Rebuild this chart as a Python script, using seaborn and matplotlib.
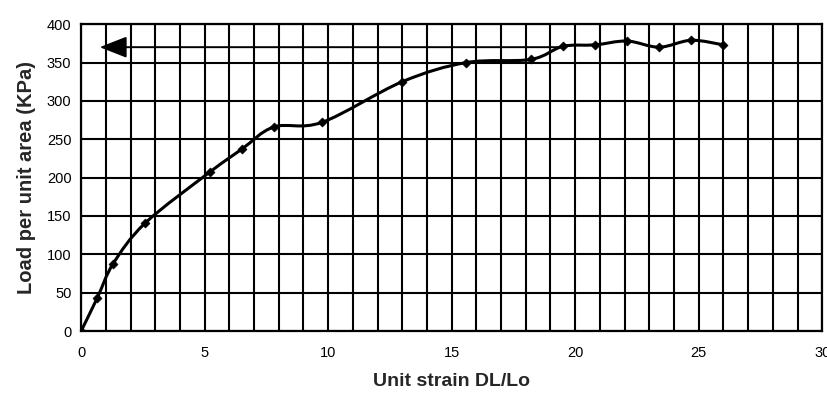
import numpy as np
import pandas as pd
import seaborn as sns
import matplotlib
matplotlib.use("Agg")
import matplotlib.pyplot as plt
from matplotlib.path import Path
from matplotlib.patches import PathPatch

# ---- data ----
strain = [0.0, 0.65, 1.3, 2.6, 5.2, 6.5, 7.8, 9.75, 13.0, 15.6, 18.2,
          19.5, 20.8, 22.1, 23.4, 24.7, 26.0]
load = [0, 43, 88, 141, 207, 237, 266, 272, 325, 350, 354,
        371, 373, 378, 370, 379, 373]
arrow_level = 370
arrow_from = 19.5
arrow_to = 0.75

x_label = "Unit strain DL/Lo"
y_label = "Load per unit area (KPa)"

df = pd.DataFrame({"strain": strain, "load": load})

sns.set_theme(style="white")
plt.rcParams["font.family"] = ["Liberation Sans", "DejaVu Sans"]

fig = plt.figure(figsize=(8.28, 3.96), dpi=100)
ax = fig.add_axes([0.098, 0.164, 0.895, 0.775])

# smoothed (Excel-style) line through the data via cubic Bezier segments
xs = np.asarray(df["strain"], float)
ys = np.asarray(df["load"], float)
verts = [(xs[0], ys[0])]
codes = [Path.MOVETO]
n = len(xs)
for i in range(n - 1):
    p0 = np.array([xs[max(i - 1, 0)], ys[max(i - 1, 0)]])
    p1 = np.array([xs[i], ys[i]])
    p2 = np.array([xs[i + 1], ys[i + 1]])
    p3 = np.array([xs[min(i + 2, n - 1)], ys[min(i + 2, n - 1)]])
    c1 = p1 + (p2 - p0) / 6.0
    c2 = p2 - (p3 - p1) / 6.0
    verts += [tuple(c1), tuple(c2), tuple(p2)]
    codes += [Path.CURVE4] * 3
ax.add_patch(PathPatch(Path(verts, codes), facecolor="none",
                       edgecolor="black", lw=2.2, zorder=4))

sns.scatterplot(data=df, x="strain", y="load", ax=ax, marker="D",
                s=22, color="black", edgecolor="black", zorder=5, legend=False)

ax.annotate("", xy=(arrow_to, arrow_level), xytext=(arrow_from, arrow_level),
            arrowprops=dict(arrowstyle="-|>,head_length=1.4,head_width=0.55",
                            color="black", lw=1.4, shrinkA=0, shrinkB=0),
            zorder=3)

ax.set_xlim(0, 30)
ax.set_ylim(0, 400)
ax.set_xticks(np.arange(0, 31, 5))
ax.set_xticks(np.arange(0, 31, 1), minor=True)
ax.set_yticks(np.arange(0, 401, 50))
ax.grid(True, which="both", axis="x", color="black", lw=1.5)
ax.grid(True, which="major", axis="y", color="black", lw=1.5)
ax.set_axisbelow(True)
for s in ax.spines.values():
    s.set_color("black")
    s.set_linewidth(1.6)
    s.set_visible(True)

ax.tick_params(axis="both", which="major", labelsize=10.5, colors="black",
               length=4, width=1.4, direction="out")
ax.tick_params(axis="x", which="major", pad=7)
ax.tick_params(axis="y", which="major", pad=3)
ax.tick_params(which="minor", length=0)

ax.set_xlabel(x_label, fontsize=14, fontweight="bold", labelpad=9)
ax.set_ylabel(y_label, fontsize=14.5, fontweight="bold", labelpad=8)

fig.savefig("out.png", dpi=100, facecolor="white")
